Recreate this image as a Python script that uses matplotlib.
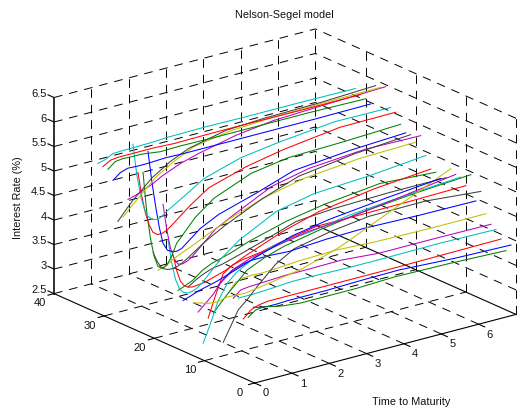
import numpy as np
import matplotlib
matplotlib.use("Agg")
import matplotlib.pyplot as plt
from mpl_toolkits.mplot3d import proj3d

plt.rcParams['font.family'] = ['Liberation Sans', 'DejaVu Sans']
plt.rcParams['lines.scale_dashes'] = False

title = "Nelson-Segel model"
xlabel = "Time to Maturity"
zlabel = "Interest Rate (%)"
x_ticks = [0, 1, 2, 3, 4, 5, 6]
y_ticks = [0, 10, 20, 30, 40]
z_ticks = [2.5, 3, 3.5, 4, 4.5, 5, 5.5, 6, 6.5]
z_tick_labels = ["2.5", "3", "3.5", "4", "4.5", "5", "5.5", "6", "6.5"]
colors = ['#0000ff', '#008000', '#ff0000', '#00bfbf', '#bf00bf', '#bfbf00', '#404040']

maturity = [0.1, 0.3, 0.5, 0.75, 1, 1.5, 2, 3, 4, 5.5, 7]
maturity_fine = [0.1, 0.2, 0.3, 0.4, 0.5, 0.62, 0.75, 0.87, 1, 1.5, 2, 3, 4, 5.5, 7]
r01 = [3.98, 3.94, 3.92, 3.92, 3.93, 3.93, 3.93, 3.95, 3.96, 3.90, 3.87]
r02 = [3.73, 3.84, 3.86, 3.82, 3.78, 3.74, 3.74, 3.74, 3.77, 3.75, 3.71]
r03 = [3.65, 3.79, 3.85, 3.88, 3.88, 3.88, 3.88, 3.88, 3.88, 3.89, 3.90]
r04 = [4.03, 4.03, 4.03, 4.04, 4.05, 4.08, 4.08, 4.06, 4.06, 4.07, 4.05]
r05 = [3.98, 4.11, 4.13, 4.14, 4.15, 4.17, 4.17, 4.18, 4.12, 4.12, 4.11]
r06 = [4.04, 4.22, 4.27, 4.28, 4.27, 4.29, 4.32, 4.34, 4.30, 4.28, 4.28]
r07 = [2.99, 3.28, 3.57, 3.74, 3.94, 4.30, 4.52, 4.68, 4.78, 4.79, 4.69]
r08 = [4.11, 4.23, 4.34, 4.41, 4.44, 4.44, 4.42, 4.47, 4.49, 4.46, 4.45]
r09 = [3.49, 3.66, 3.82, 4.00, 4.19, 4.36, 4.48, 4.63, 4.75, 4.86, 4.94]
r10 = [3.35, 3.78, 4.17, 4.30, 4.35, 4.41, 4.50, 4.64, 4.64, 4.65, 4.67]
r11 = [2.79, 3.16, 3.57, 3.89, 4.06, 4.27, 4.41, 4.49, 4.62, 4.72, 4.80]
r12 = [3.38, 3.52, 3.66, 3.90, 4.05, 4.20, 4.28, 4.43, 4.49, 4.64, 4.81]
r13 = [3.52, 3.48, 3.43, 3.41, 3.46, 3.44, 3.50, 3.63, 3.87, 4.37, 4.88]
r14 = [3.80, 3.90, 3.98, 4.05, 4.08, 4.19, 4.31, 4.56, 4.62, 4.65, 4.65]
r15 = [3.48, 3.53, 3.59, 3.64, 3.69, 3.82, 3.96, 4.21, 4.35, 4.48, 4.59]
r16 = [3.64, 3.70, 3.77, 3.92, 4.01, 4.12, 4.26, 4.47, 4.61, 4.74, 4.67]
r17 = [4.31, 3.97, 3.74, 3.63, 3.58, 3.56, 3.57, 3.58, 3.60, 3.72, 3.90, 4.20, 4.42, 4.59, 4.69]
r18 = [4.57, 4.08, 3.73, 3.53, 3.43, 3.39, 3.40, 3.44, 3.51, 3.90, 4.19, 4.58, 4.74, 4.81, 4.92]
r19 = [5.26, 4.72, 4.32, 4.09, 3.96, 3.94, 3.97, 4.03, 4.12, 4.47, 4.67, 5.04, 5.21, 5.30, 5.28]
r20 = [3.87, 3.91, 4.01, 4.10, 4.18, 4.36, 4.53, 4.79, 4.96, 5.07, 5.10]
r21 = [4.19, 4.00, 3.86, 3.79, 3.76, 3.75, 3.77, 3.81, 3.87, 4.13, 4.34, 4.69, 4.96, 5.12, 5.21]
r22 = [6.20, 5.58, 5.06, 4.60, 4.25, 4.08, 4.03, 4.01, 4.04, 4.35, 4.54, 4.77, 5.03, 5.14, 5.20]
r23 = [5.73, 4.90, 4.34, 3.95, 3.73, 3.66, 3.72, 3.87, 4.10, 4.53, 4.82, 5.13, 5.25, 5.28, 5.33]
r24 = [5.68, 5.18, 4.81, 4.55, 4.38, 4.31, 4.31, 4.35, 4.42, 4.73, 4.99, 5.22, 5.37, 5.52, 5.53]
r25 = [6.21, 5.58, 5.13, 4.84, 4.66, 4.57, 4.55, 4.58, 4.66, 4.89, 5.13, 5.36, 5.47, 5.59, 5.58]
r26 = [5.04, 5.08, 5.14, 5.22, 5.33, 5.49, 5.60, 5.77, 5.87, 5.92, 5.96]
r27 = [4.63, 4.79, 4.93, 5.11, 5.28, 5.51, 5.69, 5.82, 5.86, 5.89, 5.90]
r28 = [4.50, 4.68, 4.85, 5.02, 5.20, 5.44, 5.61, 5.78, 5.82, 5.84, 5.89]
r29 = [5.29, 5.41, 5.46, 5.45, 5.45, 5.47, 5.46, 5.46, 5.46, 5.46, 5.47]
r30 = [5.47, 5.59, 5.61, 5.60, 5.60, 5.55, 5.56, 5.55, 5.55, 5.55, 5.53]
r31 = [5.48, 5.57, 5.59, 5.59, 5.59, 5.59, 5.57, 5.58, 5.58, 5.57, 5.57]
r32 = [5.50, 5.54, 5.62, 5.63, 5.63, 5.64, 5.66, 5.67, 5.66, 5.66, 5.65]
rates = [r01, r02, r03, r04, r05, r06, r07, r08, r09, r10, r11, r12, r13, r14, r15, r16,
         r17, r18, r19, r20, r21, r22, r23, r24, r25, r26, r27, r28, r29, r30, r31, r32]

W, H = 524, 411
fig = plt.figure(figsize=(W / 100, H / 100), dpi=100)
ax = fig.add_axes([0, 0, 1, 1], projection='3d', proj_type='ortho')
ax.computed_zorder = False
ax.view_init(elev=20, azim=-127.5)
ax.set_xlim(0, 7, view_margin=0)
ax.set_ylim(0, 40, view_margin=0)
ax.set_zlim(2.5, 6.5, view_margin=0)
ax.set_box_aspect((330, 330, 209))
ax.set_axis_off()
ax.patch.set_alpha(0)


def to_px(x, y, z):
    ax.apply_aspect()
    X, Y, _ = proj3d.proj_transform(x, y, z, ax.get_proj())
    return ax.transData.transform((X, Y))


def label_at(x, y, z, s, ha):
    p = to_px(x, y, z)
    fig.text(p[0] / W, p[1] / H, s, fontsize=8, ha=ha, va='center', color='#111111')


# place the box so its front corner and span match the reference frame
target_front = np.array([254.6, H - 383.0])
target_right = np.array([516.0, H - 314.0])
a = to_px(0, 0, 2.5)
b = to_px(7, 0, 2.5)
side = H * (target_right[0] - target_front[0]) / (b[0] - a[0])
ax.set_position([0, 0, side / W, side / H])
a = to_px(0, 0, 2.5)
shift = target_front - a
ax.set_position([shift[0] / W, shift[1] / H, side / W, side / H])

xmax, ymax, zmin, zmax = 7, 40, 2.5, 6.5
dash = dict(color='black', lw=0.7, ls=(0, (6.2, 5.0)), zorder=1)
solid = dict(color='black', lw=0.8, zorder=2)

# floor grid
for xv in x_ticks[1:]:
    ax.plot([xv, xv], [0, ymax], [zmin, zmin], **dash)
for yv in y_ticks[1:]:
    ax.plot([0, xmax], [yv, yv], [zmin, zmin], **dash)
# wall y = 40
for xv in x_ticks[1:] + [xmax]:
    ax.plot([xv, xv], [ymax, ymax], [zmin, zmax], **dash)
for zv in z_ticks[1:]:
    ax.plot([0, xmax], [ymax, ymax], [zv, zv], **dash)
# wall x = 7
for yv in y_ticks[:-1]:
    ax.plot([xmax, xmax], [yv, yv], [zmin, zmax], **dash)
for zv in z_ticks[1:]:
    ax.plot([xmax, xmax], [0, ymax], [zv, zv], **dash)

# axis lines
ax.plot([0, xmax], [0, 0], [zmin, zmin], **solid)
ax.plot([0, 0], [0, ymax], [zmin, zmin], **solid)
ax.plot([xmax, xmax], [0, ymax], [zmin, zmin], **solid)
ax.plot([0, 0], [ymax, ymax], [zmin, zmax], color='#303030', lw=1.4, zorder=2)

# ticks and tick labels
for xv in x_ticks:
    ax.plot([xv, xv], [0, -1.2], [zmin, zmin], **solid)
    label_at(xv, -2.2, zmin - 0.11, str(xv), 'center')
for yv in y_ticks:
    ax.plot([0, -0.16], [yv, yv], [zmin, zmin], **solid)
    label_at(-0.39, yv, zmin - 0.12, str(yv), 'center')
for zv, lab in zip(z_ticks, z_tick_labels):
    ax.plot([0, 0], [ymax, ymax + 1.2], [zv, zv], **solid)
    label_at(0, ymax + 1.5, zv, lab, 'right')

# curves
for i, r in enumerate(rates):
    mat = maturity_fine if len(r) == len(maturity_fine) else maturity
    ax.plot(mat, [i + 1] * len(mat), r, color=colors[i % 7], lw=0.75,
            zorder=3 + i, solid_joinstyle='round')

fig.text(284.5 / W, 1 - 15 / H, title, fontsize=7.8, ha='center', va='center', color='#111111')
fig.text(411.5 / W, 1 - 402 / H, xlabel, fontsize=7.8, ha='center', va='center', color='#111111')
fig.text(18 / W, 1 - 198 / H, zlabel, fontsize=7.8, ha='center', va='center', rotation=90, color='#111111')

fig.savefig('out.png', dpi=100)
